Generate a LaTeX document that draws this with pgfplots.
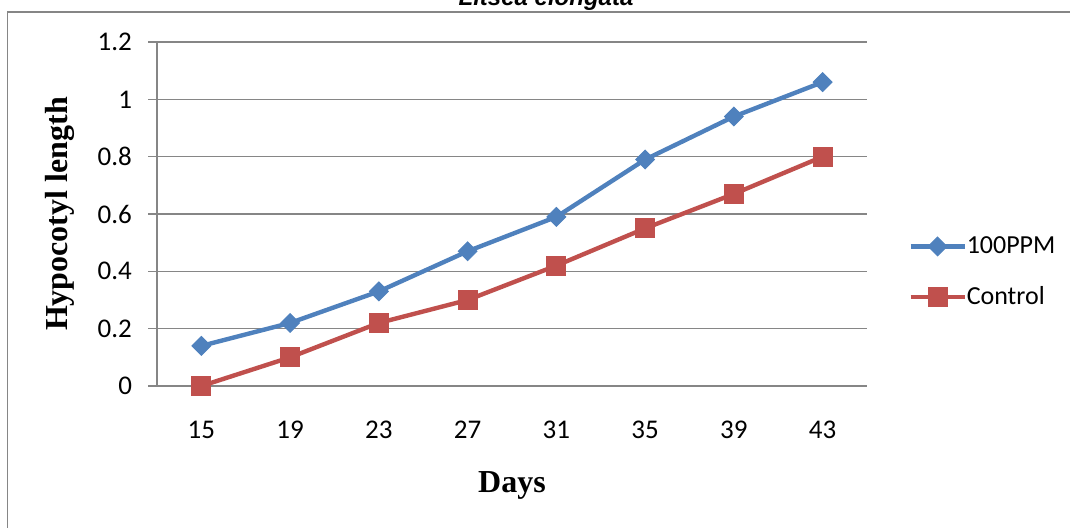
\documentclass[border=0pt]{standalone}
\usepackage{fontspec}
\usepackage{pgfplots}
\pgfplotsset{compat=1.18}
\setmainfont{Carlito}
\newfontfamily\labelfont{Liberation Serif}
\newfontfamily\titlefont{Liberation Sans}
\definecolor{ppmblue}{HTML}{4F81BD}
\definecolor{ctrlred}{HTML}{C0504D}
\definecolor{gridgray}{HTML}{868686}
\begin{document}
\begin{tikzpicture}[x=1pt,y=1pt]
\useasboundingbox (0,0) rectangle (535,263.5);
\begin{scope}
  \clip (0,0) rectangle (535,263.5);
  \draw[gridgray, line width=0.6pt] (3.75,-10) -- (3.75,257.5) -- (545,257.5);
  \node[anchor=base, inner sep=0pt, font=\titlefont\bfseries\itshape\fontsize{12}{14}\selectfont] at (273,261) {Litsea elongata};
\end{scope}
\begin{axis}[
  at={(78.5pt,70.5pt)}, anchor=south west,
  scale only axis, width=355pt, height=172pt,
  xmin=-0.5, xmax=7.5, ymin=0, ymax=1.2,
  xtick={0,...,7}, xticklabels={15,19,23,27,31,35,39,43},
  ytick={0,0.2,0.4,0.6,0.8,1,1.2},
  axis x line*=bottom, axis y line*=left,
  axis line style={-, gridgray, line width=0.6pt},
  ymajorgrids, grid style={gridgray, line width=0.6pt},
  tick align=outside, major tick length=4.5pt,
  ytick style={gridgray, line width=0.6pt}, xtick style={draw=none},
  tick label style={font=\fontsize{13.5}{15}\selectfont},
  /pgf/number format/assume math mode=true,
  xticklabel style={anchor=base, yshift=-21.5pt},
  yticklabel style={anchor=east, xshift=-4.5pt},
  xlabel={Days}, ylabel={Hypocotyl length},
  label style={font=\labelfont\bfseries\fontsize{16}{18}\selectfont},
  xlabel style={at={(axis description cs:0.5,-0.311)}, anchor=base},
  ylabel style={at={(axis description cs:-0.1366,0.5)}, anchor=center},
  clip=false,
  legend cell align=left,
  legend style={at={(axis description cs:1.0577,0.3314)}, anchor=west,
    draw=none, fill=none, inner sep=0pt, row sep=15pt,
    font=\fontsize{13}{15}\selectfont, nodes={inner sep=0pt},
    /tikz/every even column/.append style={column sep=3pt}},
  legend image code/.code={
    \draw[#1, mark repeat=2, mark phase=2] plot coordinates {(0pt,0pt) (13.5pt,0pt) (27pt,0pt)};
  },
]
\addplot[ppmblue, line width=2.2pt, mark=square*, mark size=3.3pt,
  mark options={rotate=45, line width=0.5pt, fill=ppmblue}]
  coordinates {(0,0.14) (1,0.22) (2,0.33) (3,0.47) (4,0.59) (5,0.79) (6,0.94) (7,1.06)};
\addlegendentry{100PPM}
\addplot[ctrlred, line width=2.2pt, mark=square*, mark size=4.75pt,
  mark options={line width=0.5pt, fill=ctrlred}]
  coordinates {(0,0) (1,0.1) (2,0.22) (3,0.3) (4,0.42) (5,0.55) (6,0.67) (7,0.8)};
\addlegendentry{Control}
\end{axis}
\end{tikzpicture}
\end{document}
